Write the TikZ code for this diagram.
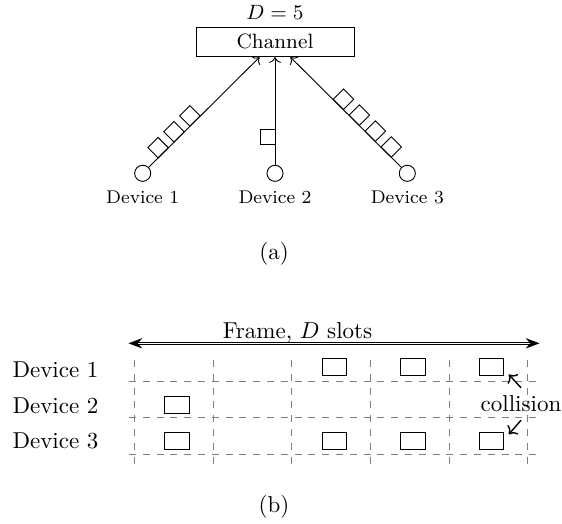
\documentclass[tikz,border=0pt]{standalone}
\usetikzlibrary{arrows.meta,calc}
\begin{document}
\begin{tikzpicture}[x=0.4348pt, y=-0.4348pt]
\tikzset{
  pkt/.style={draw, rotate=45, minimum size=6.3pt, inner sep=0pt},
  dev/.style={draw, circle, minimum size=7pt, inner sep=0pt},
  slotbox/.style={draw, minimum width=10.65pt, minimum height=7.4pt, inner sep=0pt},
  gridline/.style={gray, dashed},
  devlabel/.style={font=\footnotesize},
}
\useasboundingbox (0,0) rectangle (562,523);

% ---------- (a) devices sending packets to the channel ----------
\node[draw, minimum width=68.7pt, minimum height=12.9pt, inner sep=0pt, font=\small] (ch) at (275,41.8) {Channel};
\node[font=\small] (dval) at (275,12.9) {$D=5$};

\node[dev] (d1) at (142.7,173.3) {};
\node[dev] (d2) at (275,173.3) {};
\node[dev] (d3) at (407.3,173.3) {};

\node[devlabel] (l1) at (142.7,197) {Device 1};
\node[devlabel] (l2) at (275,197) {Device 2};
\node[devlabel] (l3) at (407.3,197) {Device 3};

\coordinate (t1) at ($(ch.south)+(-15.4,0)$);
\coordinate (t3) at ($(ch.south)+(15.4,0)$);
\draw[->] (d1) -- (t1);
\draw[->] (d2) -- (ch.south);
\draw[->] (d3) -- (t3);

% packets queued on each link
\node[pkt] (p11) at (158.1,147.7) {};
\node[pkt] (p12) at (174.0,131.8) {};
\node[pkt] (p13) at (189.9,115.9) {};
\node[draw, minimum size=6.3pt, inner sep=0pt] (p21) at (267.75,137) {};
\node[pkt] (p31) at (391.2,147.0) {};
\node[pkt] (p32) at (375.3,131.1) {};
\node[pkt] (p33) at (359.4,115.1) {};
\node[pkt] (p34) at (343.5,99.2) {};

\node (capa) at (274,253.5) {(a)};

% ---------- (b) slot grid of one frame ----------
\coordinate (fl) at (128.5,343.3);
\coordinate (fr) at (539.5,343.3);
\draw[double, {Stealth[length=6pt,width=4.5pt]}-{Stealth[length=6pt,width=4.5pt]}] (fl) -- (fr);
\node (frame) at (297.5,332.7) {Frame, $D$ slots};

\foreach \gx in {134.4,213.1,291.8,370.5,449.2,527.9}
  \draw[gridline] (\gx,360) -- (\gx,465);
\foreach \gy in {381,417.7,454.4}
  \draw[gridline] (129,\gy) -- (540,\gy);

\node (r1) at (55.5,369.5) {Device 1};
\node (r2) at (55.5,405.5) {Device 2};
\node (r3) at (55.5,441) {Device 3};

\node[slotbox] (s13) at (334.2,367.3) {};
\node[slotbox] (s14) at (412.9,367.3) {};
\node[slotbox] (s15) at (491.6,367.3) {};
\node[slotbox] (s21) at (176.8,404.5) {};
\node[slotbox] (s31) at (176.8,440.5) {};
\node[slotbox] (s33) at (334.2,440.5) {};
\node[slotbox] (s34) at (412.9,440.5) {};
\node[slotbox] (s35) at (491.6,440.5) {};

\node (col) at (521,404) {collision};
\coordinate (c1) at ($(s15.south east)+(4.5,-1.8)$);
\coordinate (c2) at ($(s35.north east)+(4.5,2.8)$);
\draw[->, semithick] (col.north) -- (c1);
\draw[->, semithick] (col.south) -- (c2);

\node (capb) at (274,506.5) {(b)};
\end{tikzpicture}
\end{document}
